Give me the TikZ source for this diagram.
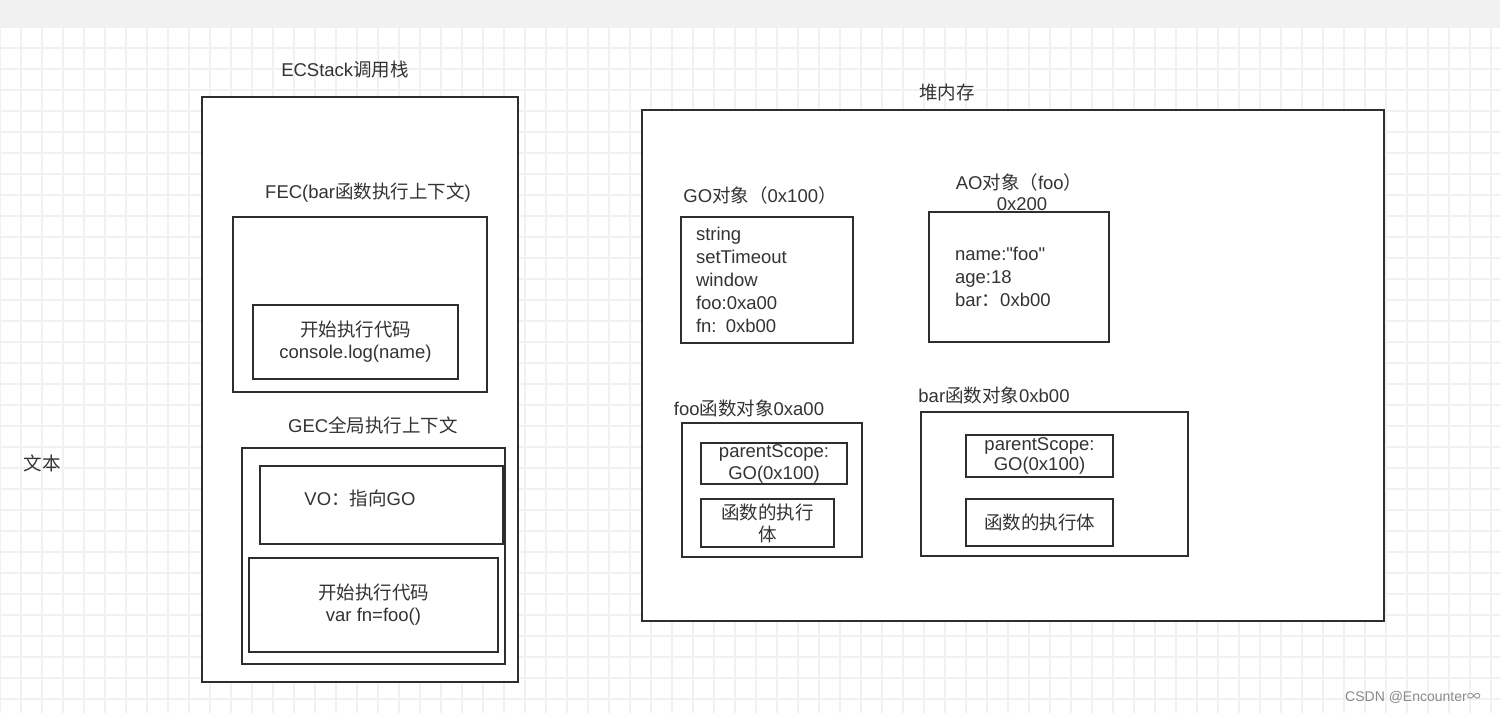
\documentclass[tikz,border=0pt]{standalone}
\usepackage{fontspec}
\setmainfont{Liberation Sans}[Ligatures=TeXOff]
\newfontfamily\cjk{Noto Sans CJK SC}
\newcommand{\zh}[1]{{\cjk #1}}
\usepackage{tikz}
\usetikzlibrary{positioning}

\definecolor{gridgray}{HTML}{F1F1F1}
\definecolor{bargray}{HTML}{F1F1F1}
\definecolor{boxline}{HTML}{2E2E2E}
\definecolor{txtgray}{HTML}{333333}
\definecolor{markgray}{HTML}{8A8A8A}

\begin{document}
\begin{tikzpicture}[x=1pt, y=-1pt,
    every node/.style={font=\fontsize{18.5}{22}\selectfont, text=txtgray},
    box/.style={draw=boxline, line width=2.5pt, fill=white, inner sep=0pt, align=center},
    lbl/.style={inner sep=0pt, align=center}]

          \useasboundingbox (0,0) rectangle (1500,713);

          % background
          \fill[white] (0,0) rectangle (1500,713);
          \foreach \gx in {0,21,...,1500}
                \draw[gridgray, line width=1.2pt] (\gx,27) -- (\gx,713);
          \foreach \gy in {27,48,...,713}
                \draw[gridgray, line width=1.2pt] (0,\gy) -- (1500,\gy);
          \fill[bargray] (0,0) rectangle (1500,27);

          \node[lbl] (textlbl) at (42,463) {\zh{文本}};

          % call stack
          \node[lbl] (ecstacklbl) at (345,70) {ECStack\zh{调用栈}};
          \node[box, minimum width=316, minimum height=585] (ecstack) at (360,389.5) {};

          \node[lbl] (feclbl) at (368,193) {FEC(bar\zh{函数执行上下文})};
          \node[box, minimum width=254, minimum height=175] (fec) at (360,304.5) {};
          \node[box, minimum width=205, minimum height=74] (fecrun) at (355.5,342)
                {\zh{开始执行代码}\\console.log(name)};

          \node[lbl] (geclbl) at (373,425) {GEC\zh{全局执行上下文}};
          \node[box, minimum width=263, minimum height=216] (gec) at (373.5,556) {};
          \node[box, minimum width=243, minimum height=78] (vo) at (381.5,505) {};
          \node[lbl] (volbl) at (360,498) {VO\zh{：指向}GO};
          \node[box, minimum width=249, minimum height=94] (gecrun) at (373.5,605)
                {\zh{开始执行代码}\\var fn=foo()};

          % heap
          \node[lbl] (heaplbl) at (947,92) {\zh{堆内存}};
          \node[box, minimum width=742, minimum height=511] (heap) at (1013,365.5) {};

          \node[lbl] (golbl) at (760,195) {GO\zh{对象（}0x100\zh{）}};
          \node[box, minimum width=172, minimum height=126, align=left,
                inner xsep=15pt, text width=142pt,
                font=\fontsize{18.5}{23}\selectfont] (goobj) at (767,280)
                {string\\setTimeout\\window\\foo:0xa00\\fn: 0xb00};

          \node[box, minimum width=180, minimum height=130, align=left,
                inner xsep=26pt, text width=128pt,
                font=\fontsize{18.5}{23}\selectfont] (aoobj) at (1019,277)
                {name:"foo"\\age:18\\bar\zh{：}0xb00};
          \node[lbl, font=\fontsize{18.5}{21}\selectfont] (aolbl) at (1019,192)
                {AO\zh{对象（}foo\zh{）}\\\hspace*{6pt}0x200};

          \node[lbl] (foolbl) at (749,408) {foo\zh{函数对象}0xa00};
          \node[box, minimum width=180, minimum height=134] (fooobj) at (772,490) {};
          \node[box, minimum width=146, minimum height=41] (foopar) at (774,463.5)
                {parentScope:\\GO(0x100)};
          \node[box, minimum width=133, minimum height=48] (foobody) at (767.5,523)
                {\zh{函数的执行}\\\zh{体}};

          \node[lbl] (barlbl) at (994,395) {bar\zh{函数对象}0xb00};
          \node[box, minimum width=267, minimum height=144] (barobj) at (1054.5,484) {};
          \node[box, minimum width=147, minimum height=42,
                font=\fontsize{18.5}{20}\selectfont] (barpar) at (1039.5,456)
                {parentScope:\\GO(0x100)};
          \node[box, minimum width=147, minimum height=47] (barbody) at (1039.5,522.5)
                {\zh{函数的执行体}};

          \node[lbl, text=markgray, font=\fontsize{14}{16}\selectfont] (mark) at (1413,697)
                {CSDN @Encounter\zh{∞}};

        \end{tikzpicture}
\end{document}
